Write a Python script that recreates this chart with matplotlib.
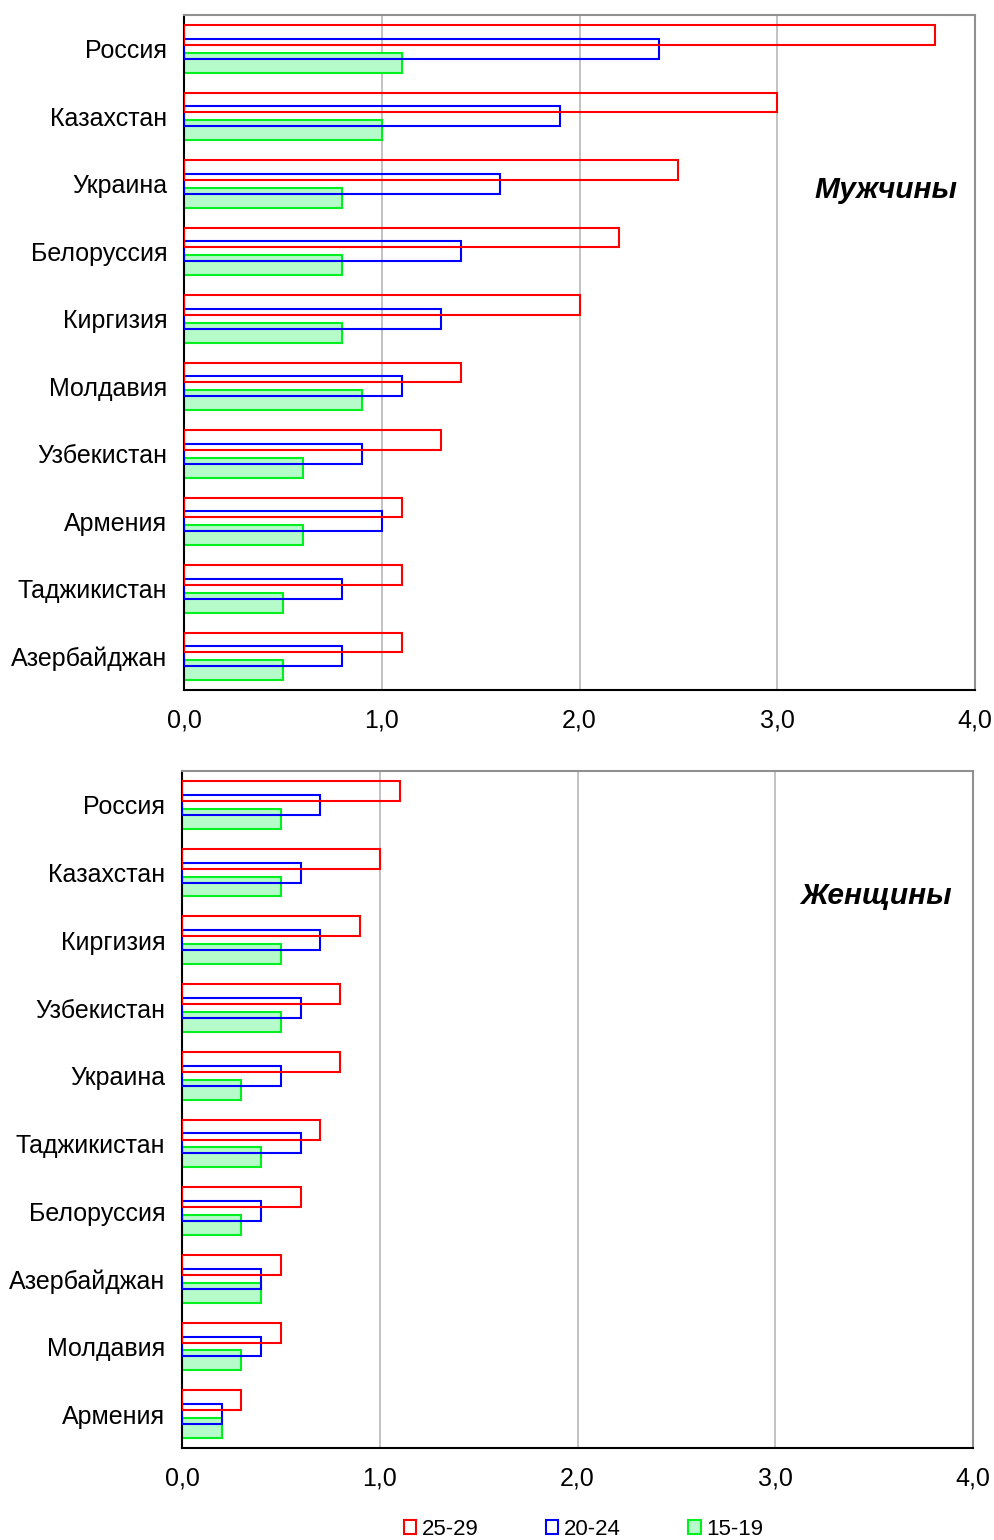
import matplotlib
matplotlib.use("Agg")
import matplotlib.pyplot as plt
from matplotlib.patches import Patch
import numpy as np

plt.rcParams['font.family'] = ['Liberation Sans', 'DejaVu Sans']

# ---- data ----
men_countries = ["Россия", "Казахстан", "Украина", "Белоруссия", "Киргизия",
                 "Молдавия", "Узбекистан", "Армения", "Таджикистан", "Азербайджан"]
men_25_29 = [3.8, 3.0, 2.5, 2.2, 2.0, 1.4, 1.3, 1.1, 1.1, 1.1]
men_20_24 = [2.4, 1.9, 1.6, 1.4, 1.3, 1.1, 0.9, 1.0, 0.8, 0.8]
men_15_19 = [1.1, 1.0, 0.8, 0.8, 0.8, 0.9, 0.6, 0.6, 0.5, 0.5]

women_countries = ["Россия", "Казахстан", "Киргизия", "Узбекистан", "Украина",
                   "Таджикистан", "Белоруссия", "Азербайджан", "Молдавия", "Армения"]
women_25_29 = [1.1, 1.0, 0.9, 0.8, 0.8, 0.7, 0.6, 0.5, 0.5, 0.3]
women_20_24 = [0.7, 0.6, 0.7, 0.6, 0.5, 0.6, 0.4, 0.4, 0.4, 0.2]
women_15_19 = [0.5, 0.5, 0.5, 0.5, 0.3, 0.4, 0.3, 0.4, 0.3, 0.2]

age_labels = ["25-29", "20-24", "15-19"]
x_ticks = [0, 1, 2, 3, 4]
x_ticklabels = ["0,0", "1,0", "2,0", "3,0", "4,0"]
panel_titles = ["Мужчины", "Женщины"]

RED = "#ff0000"
BLUE = "#0000ff"
GREEN = "#00f020"
GREEN_FILL = "#b5fcca"
FS = 18

fig = plt.figure(figsize=(9.94, 15.4), dpi=100)
ax1 = fig.add_axes([0.1851, 0.5519, 0.7958, 0.4383])
ax2 = fig.add_axes([0.1831, 0.0597, 0.7958, 0.4396])


def draw(ax, countries, a, b, c, title, tx, ty):
    n = len(countries)
    y = np.arange(n)[::-1].astype(float)
    off = 0.205
    h = 0.295
    ax.barh(y - off, c, height=h, facecolor=GREEN_FILL, edgecolor=GREEN, linewidth=1.5, zorder=2)
    ax.barh(y, b, height=h, facecolor="none", edgecolor=BLUE, linewidth=1.5, zorder=3)
    ax.barh(y + off, a, height=h, facecolor="none", edgecolor=RED, linewidth=1.5, zorder=4)
    ax.set_ylim(-0.5, n - 0.5)
    ax.set_xlim(0, 4)
    ax.set_yticks(y)
    ax.set_yticklabels(countries, fontsize=FS)
    ax.set_xticks(x_ticks)
    ax.set_xticklabels(x_ticklabels, fontsize=FS)
    ax.tick_params(axis='y', length=0, pad=12)
    ax.tick_params(axis='x', length=0, pad=13)
    ax.grid(axis='x', color="#b8b8b8", linewidth=1.2, zorder=0)
    ax.set_axisbelow(True)
    for s in ['top', 'right']:
        ax.spines[s].set_color("#909090")
        ax.spines[s].set_linewidth(1.5)
    for s in ['left', 'bottom']:
        ax.spines[s].set_color("#000000")
        ax.spines[s].set_linewidth(1.5)
    ax.text(tx, ty, title, transform=ax.transAxes, fontsize=21.5, fontweight='bold',
            fontstyle='italic', ha='right', va='center')


draw(ax1, men_countries, men_25_29, men_20_24, men_15_19, panel_titles[0], 0.978, 0.741)
draw(ax2, women_countries, women_25_29, women_20_24, women_15_19, panel_titles[1], 0.973, 0.815)

handles = [Patch(facecolor="white", edgecolor=RED, linewidth=1.5),
           Patch(facecolor="white", edgecolor=BLUE, linewidth=1.5),
           Patch(facecolor=GREEN_FILL, edgecolor=GREEN, linewidth=1.5)]
fig.legend(handles, age_labels, loc='center', bbox_to_anchor=(0.587, 0.007), ncol=3,
           frameon=False, fontsize=16, handlelength=0.55, handleheight=0.55,
           handletextpad=0.25, columnspacing=3.05, borderaxespad=0)

fig.savefig("out.png", dpi=100)
